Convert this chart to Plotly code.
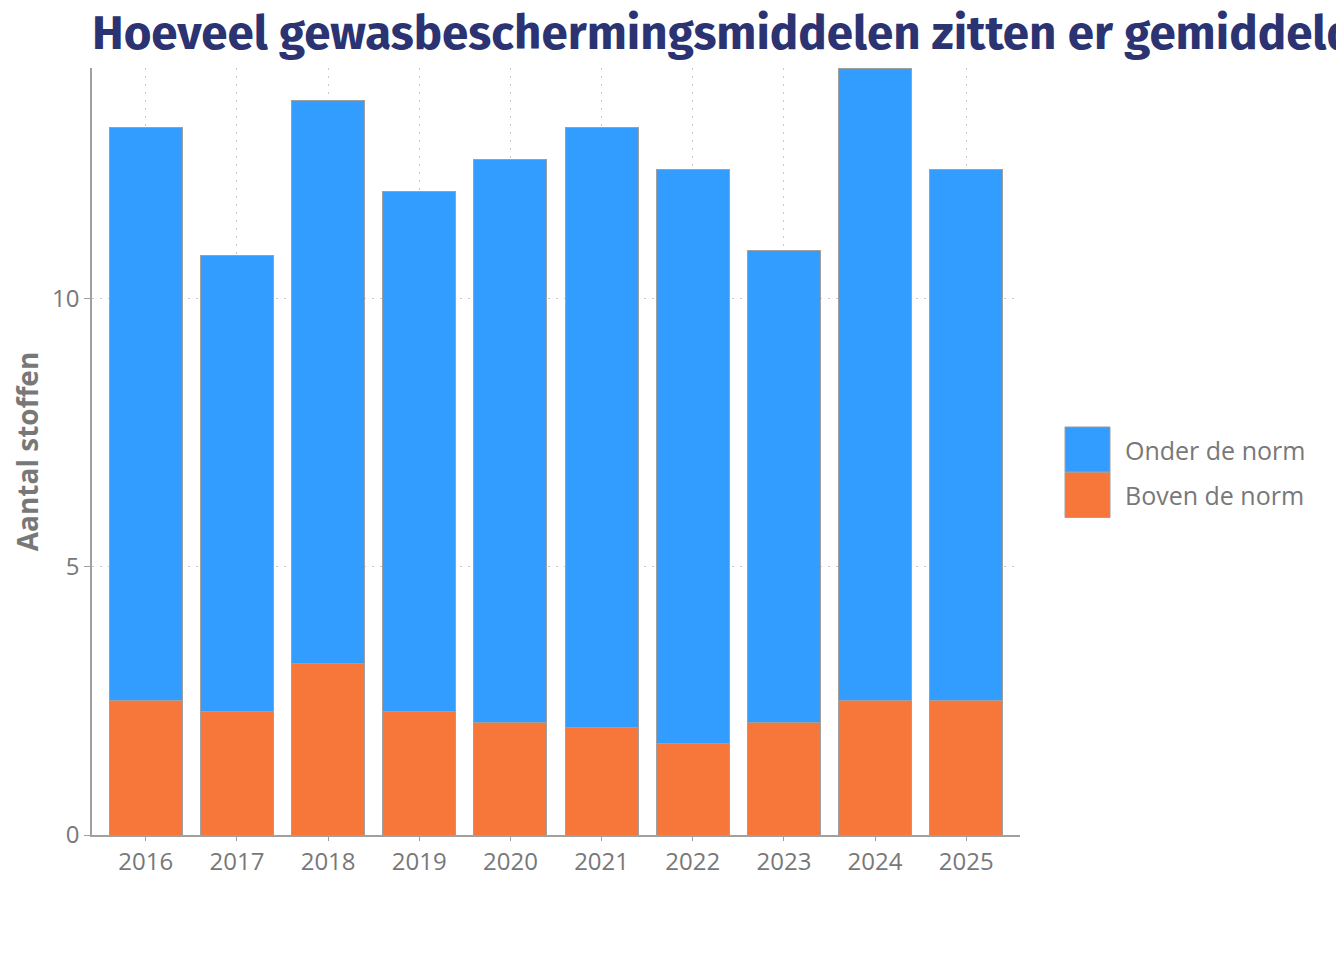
import plotly.graph_objects as go

# Data
jaren = ["2016", "2017", "2018", "2019", "2020", "2021", "2022", "2023", "2024", "2025"]
boven_de_norm = [2.5, 2.3, 3.2, 2.3, 2.1, 2.0, 1.7, 2.1, 2.5, 2.5]
onder_de_norm = [10.7, 8.5, 10.5, 9.7, 10.5, 11.2, 10.7, 8.8, 11.8, 9.9]
reeksen = ["Onder de norm", "Boven de norm"]
kleuren = {"Onder de norm": "#339cff", "Boven de norm": "#f7773a"}

titel = "Hoeveel gewasbeschermingsmiddelen zitten er gemiddeld in een product?"
tekst_font = "Open Sans, Noto Sans, sans-serif"
titel_font = "Fira Sans, Open Sans, sans-serif"
grijs = "#787878"
rand = "#a0a0a0"

fig = go.Figure()

fig.add_trace(go.Bar(
    x=jaren, y=boven_de_norm, name="Boven de norm", showlegend=False,
    marker=dict(color=kleuren["Boven de norm"], line=dict(color=rand, width=1)),
))
fig.add_trace(go.Bar(
    x=jaren, y=onder_de_norm, name="Onder de norm", showlegend=False,
    marker=dict(color=kleuren["Onder de norm"], line=dict(color=rand, width=1)),
))

totaal = [a + b for a, b in zip(boven_de_norm, onder_de_norm)]

# legenda met grote blokjes (zoals in het origineel)
blok_h = 0.059
for i, naam in enumerate(reeksen):
    y1 = 0.532 - i * blok_h
    fig.add_shape(
        type="rect", xref="paper", yref="paper",
        x0=1.0485, x1=1.097, y0=y1 - blok_h, y1=y1,
        fillcolor=kleuren[naam], line=dict(color=rand, width=1),
    )
    fig.add_annotation(
        text=naam, xref="paper", yref="paper",
        x=1.111, y=y1 - blok_h / 2, xanchor="left", yanchor="middle",
        showarrow=False, font=dict(size=25, color=grijs, family=tekst_font),
    )

grid_dash = "2px,6px"
grid_kleur = "#c8c8c8"

fig.update_layout(
    barmode="stack",
    bargap=0.2,
    width=1344,
    height=960,
    plot_bgcolor="white",
    paper_bgcolor="white",
    showlegend=False,
    font=dict(family=tekst_font, color=grijs, size=24),
    title=dict(
        text="<b>" + titel + "</b>",
        x=0, xref="paper", xanchor="left",
        y=0.975, yanchor="middle",
        font=dict(size=47.5, color="#2b3372", family=titel_font),
    ),
    margin=dict(l=84, r=332, t=60, b=133),
    xaxis=dict(
        range=[-0.59, len(jaren) - 0.41],
        showline=True, linecolor=rand, linewidth=1.5,
        ticks="outside", ticklen=4, tickcolor=rand,
        showgrid=True, gridcolor=grid_kleur, griddash=grid_dash, gridwidth=1,
        tickfont=dict(size=24, color=grijs),
        automargin=False,
    ),
    yaxis=dict(
        range=[0, max(totaal)],
        tickvals=[0, 5, 10],
        showline=True, linecolor=rand, linewidth=1.5,
        ticks="outside", ticklen=6, tickcolor=rand,
        showgrid=True, gridcolor=grid_kleur, griddash=grid_dash, gridwidth=1,
        zeroline=False,
        tickfont=dict(size=24, color=grijs),
        title=dict(text="<b>Aantal stoffen</b>", font=dict(size=28, color=grijs), standoff=16),
        automargin=False,
    ),
)

fig.write_html("out.html")
